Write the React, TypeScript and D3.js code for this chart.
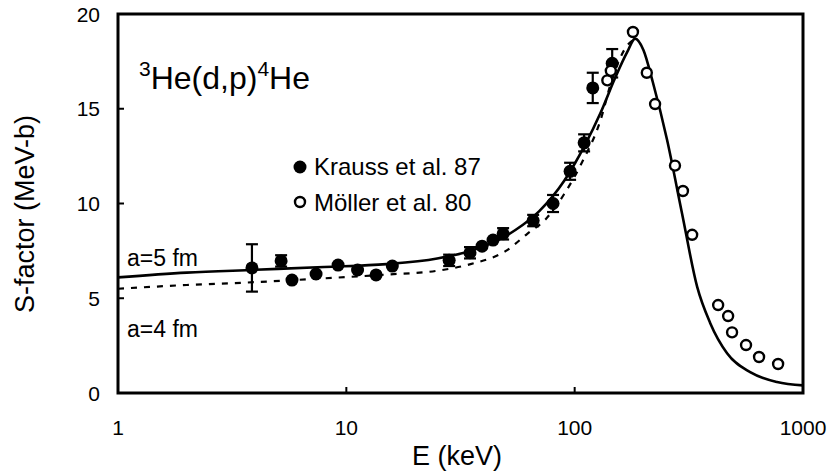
import React from "react";
import * as d3 from "d3";

// Krauss et al. 87 (filled), with error half-widths
const kraussE = [3.86, 5.18, 5.78, 7.37, 9.2, 11.2, 13.5, 15.9, 28.2, 34.8, 39.3, 43.9, 48.6, 65.8, 80.4, 95.5, 110, 120, 146];
const kraussS = [6.6, 6.97, 5.96, 6.28, 6.75, 6.49, 6.23, 6.7, 7.0, 7.4, 7.75, 8.07, 8.4, 9.1, 10.0, 11.7, 13.2, 16.1, 17.4];
const kraussErr = [1.25, 0.3, 0, 0, 0, 0, 0, 0, 0.3, 0.3, 0, 0, 0.3, 0.3, 0.45, 0.45, 0.45, 0.8, 0.75];

// Moller et al. 80 (open)
const mollerE = [139, 144, 180, 207, 225, 275, 298, 327, 425, 470, 489, 563, 642, 778];
const mollerS = [16.5, 17.0, 19.05, 16.9, 15.25, 12.0, 10.66, 8.35, 4.64, 4.06, 3.2, 2.53, 1.9, 1.53];

// a=5 fm (solid)
const fit5E = [1, 2, 4, 8, 15, 25, 35, 45, 55, 70, 90, 110, 130, 150, 170, 184, 200, 220, 254, 295, 344, 392, 465, 587, 770, 1000];
const fit5S = [6.1, 6.35, 6.5, 6.65, 6.8, 7.1, 7.5, 8.0, 8.6, 9.6, 11.2, 13.0, 14.8, 16.6, 18.0, 18.7, 18.1, 16.4, 13.35, 9.5, 5.6, 3.7, 2.1, 1.1, 0.58, 0.4];

// a=4 fm (dashed)
const fit4E = [1, 2, 4, 8, 15, 25, 35, 50, 62, 75, 90, 108, 129, 147, 169, 184];
const fit4S = [5.5, 5.7, 5.85, 6.05, 6.25, 6.45, 6.8, 7.5, 8.4, 9.2, 10.5, 12.2, 14.3, 16.7, 18.3, 18.7];

const xTicks = [1, 10, 100, 1000];
const yTicks = [0, 5, 10, 15, 20];

const W = 830;
const H = 475;
const m = { left: 118, right: 803, top: 14, bottom: 393 };
const font = "'Liberation Sans', Arial, Helvetica, sans-serif";

export default function App() {
  const x = d3.scaleLog().domain([1, 1000]).range([m.left, m.right]);
  const y = d3.scaleLinear().domain([0, 20]).range([m.bottom, m.top]);

  const line = d3
    .line<[number, number]>()
    .x((d) => x(d[0]))
    .y((d) => y(d[1]))
    .curve(d3.curveMonotoneX);

  const fit5 = line(fit5E.map((e, i) => [e, fit5S[i]]));
  const fit4 = line(fit4E.map((e, i) => [e, fit4S[i]]));

  return (
    <svg
      width={W}
      height={H}
      style={{ position: "absolute", left: 0, top: 0, background: "#fff" }}
      fontFamily={font}
    >
      {/* curves */}
      <path d={fit4 || ""} fill="none" stroke="#000" strokeWidth={2.2} strokeDasharray="6,7" />
      <path d={fit5 || ""} fill="none" stroke="#000" strokeWidth={2.6} />

      {/* Krauss error bars + points */}
      {kraussE.map((e, i) =>
        kraussErr[i] > 0 ? (
          <g key={"e" + i} stroke="#000" strokeWidth={2.2}>
            <line x1={x(e)} x2={x(e)} y1={y(kraussS[i] + kraussErr[i])} y2={y(kraussS[i] - kraussErr[i])} />
            <line x1={x(e) - 6} x2={x(e) + 6} y1={y(kraussS[i] + kraussErr[i])} y2={y(kraussS[i] + kraussErr[i])} />
            <line x1={x(e) - 6} x2={x(e) + 6} y1={y(kraussS[i] - kraussErr[i])} y2={y(kraussS[i] - kraussErr[i])} />
          </g>
        ) : null
      )}
      {kraussE.map((e, i) => (
        <circle key={"k" + i} cx={x(e)} cy={y(kraussS[i])} r={6.5} fill="#000" />
      ))}
      {mollerE.map((e, i) => (
        <circle key={"m" + i} cx={x(e)} cy={y(mollerS[i])} r={5} fill="#fff" stroke="#000" strokeWidth={2.4} />
      ))}

      {/* frame */}
      <rect
        x={m.left}
        y={m.top}
        width={m.right - m.left}
        height={m.bottom - m.top}
        fill="none"
        stroke="#000"
        strokeWidth={3}
      />
      {yTicks.slice(1, -1).map((t) => (
        <line key={"yt" + t} x1={m.left} x2={m.left + 6} y1={y(t)} y2={y(t)} stroke="#000" strokeWidth={2} />
      ))}
      {xTicks.slice(1, -1).map((t) => (
        <line key={"xt" + t} x1={x(t)} x2={x(t)} y1={m.bottom} y2={m.bottom - 6} stroke="#000" strokeWidth={2} />
      ))}

      {/* tick labels */}
      {yTicks.map((t) => (
        <text key={"yl" + t} x={100} y={y(t)} dy="0.36em" textAnchor="end" fontSize={21}>
          {t}
        </text>
      ))}
      {xTicks.map((t) => (
        <text key={"xl" + t} x={x(t)} y={435} textAnchor="middle" fontSize={21}>
          {t}
        </text>
      ))}

      {/* axis titles */}
      <text x={457} y={465} textAnchor="middle" fontSize={27}>
        E (keV)
      </text>
      <text transform="translate(34,214) rotate(-90)" textAnchor="middle" fontSize={27}>
        S-factor (MeV-b)
      </text>

      {/* reaction label */}
      <text x={139} y={89} fontSize={32}>
        <tspan fontSize={21} dy={-13}>3</tspan>
        <tspan dy={13}>He(d,p)</tspan>
        <tspan fontSize={21} dy={-13}>4</tspan>
        <tspan dy={13}>He</tspan>
      </text>

      {/* legend */}
      <circle cx={300} cy={167} r={6.5} fill="#000" />
      <text x={314} y={175} fontSize={24}>
        Krauss et al. 87
      </text>
      <circle cx={300} cy={202} r={5} fill="#fff" stroke="#000" strokeWidth={2.4} />
      <text x={314} y={211} fontSize={24}>
        Möller et al. 80
      </text>

      {/* curve labels */}
      <text x={127} y={266} fontSize={23}>
        a=5 fm
      </text>
      <text x={127} y={337} fontSize={23}>
        a=4 fm
      </text>
    </svg>
  );
}
